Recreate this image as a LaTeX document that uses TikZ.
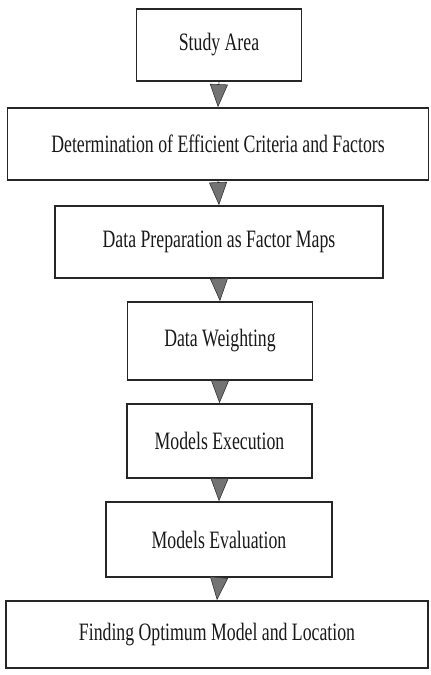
\documentclass[tikz,border=0pt]{standalone}
\usepackage{fontspec}
\setmainfont[FakeStretch=0.71]{Liberation Serif}
\usetikzlibrary{arrows.meta}
\begin{document}
\begin{tikzpicture}[x=1pt,y=1pt,
  box/.style={draw=black!85, line width=1.6pt, fill=white, inner sep=0pt, font=\fontsize{25}{28}\selectfont, text=black!90},
  flow/.style={draw=black!80, line width=0.6pt, -{Triangle[width=18pt,length=23pt,fill=black!55]}}]
\useasboundingbox (0,0) rectangle (431,-675);
\node[box, minimum width=165pt, minimum height=72pt] (b1) at (219,-45) {Study Area};
\node[box, minimum width=421pt, minimum height=72pt] (b2) at (218,-144) {Determination of Efficient Criteria and Factors};
\node[box, minimum width=328pt, minimum height=72pt] (b3) at (219,-242) {Data Preparation as Factor Maps};
\node[box, minimum width=185pt, minimum height=78pt] (b4) at (220,-341) {Data Weighting};
\node[box, minimum width=185pt, minimum height=74pt] (b5) at (219.5,-441) {Models Execution};
\node[box, minimum width=226pt, minimum height=75pt] (b6) at (219,-539.5) {Models Evaluation};
\node[box, minimum width=422pt, minimum height=67pt] (b7) at (217,-634.5) {Finding Optimum Model and Location};
\draw[flow] (b1.south) -- (b2.north);
\draw[flow] (b2.south) -- (b3.north);
\draw[flow] (b3.south) -- (b4.north);
\draw[flow] (b4.south) -- (b5.north);
\draw[flow] (b5.south) -- (b6.north);
\draw[flow] (b6.south) -- (b7.north);
\end{tikzpicture}
\end{document}
